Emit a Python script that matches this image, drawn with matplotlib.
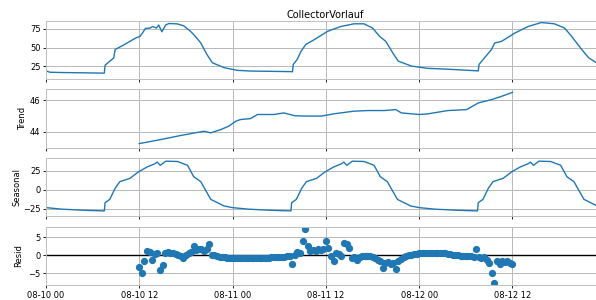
import numpy as np
import pandas as pd
import matplotlib
matplotlib.use("Agg")
import matplotlib.pyplot as plt
import matplotlib.dates as mdates

start = pd.Timestamp("2023-08-10 00:00")

obs_hours = [0, 0.5, 2, 5, 7.5, 7.6, 8.1, 8.7, 8.9, 10.0, 10.8, 11.5, 12.1, 12.4, 12.8,
             13.4, 13.7, 14.2, 14.5, 14.9, 15.4, 15.8, 16.9, 17.7, 18.6, 19.2, 19.9,
             20.7, 21.4, 22.9, 24.6, 26.3, 31.5, 31.7, 31.8, 32.3, 32.8, 33.4, 34.5,
             36.2, 37.9, 39.6, 40.9, 42.0, 42.9, 43.7, 44.6, 45.3, 47.0, 49.1, 52.1,
             55.6, 55.7, 56.4, 57.3, 57.7, 58.6, 60.3, 62.0, 63.7, 65.4, 66.7, 67.6,
             68.9, 69.8, 70.8, 71.5, 71.9]
obs_vals = [19.0, 17.2, 16.8, 16.4, 16.0, 26.5, 31.0, 36.0, 47.5, 53.5, 58.3, 62.5, 64.9,
            69.3, 75.5, 76.0, 78.0, 76.0, 80.0, 71.0, 80.0, 82.0, 81.5, 79.0, 71.5, 65.0,
            56.2, 40.8, 29.8, 23.3, 19.7, 18.8, 18.0, 17.8, 27.6, 34.0, 45.0, 54.0, 60.5,
            71.5, 78.0, 81.6, 81.6, 76.0, 65.0, 58.3, 43.0, 32.0, 25.4, 22.4, 21.0, 19.0,
            27.6, 36.4, 47.4, 56.0, 58.3, 69.3, 78.0, 83.3, 81.6, 76.0, 65.0, 47.4, 36.4,
            29.8, 25.0, 22.0]

# trend (centred moving average, defined 08-10 12 .. 08-12 12)
trend_hours = [12.0, 14.7, 17.3, 20.3, 21.2, 22.5, 23.5, 24.4, 25.0, 26.3, 27.2, 29.3, 30.6,
               32.0, 33.6, 35.4, 37.0, 39.6, 41.4, 43.5, 45.0, 45.7, 48.0, 49.1, 51.7,
               54.1, 55.6, 57.3, 58.6, 60.0]
trend_vals = [43.26, 43.51, 43.77, 44.04, 43.94, 44.15, 44.36, 44.67, 44.78, 44.84, 45.10,
              45.10, 45.20, 45.02, 45.00, 45.00, 45.14, 45.31, 45.35, 45.35, 45.41, 45.20,
              45.10, 45.14, 45.35, 45.41, 45.83, 46.04, 46.25, 46.50]

# seasonal component, one daily profile (period = 24 h)
seas_hours = [0, 2, 5, 7.5, 7.6, 8.2, 8.9, 9.5, 10.8, 11.9, 13.0, 14.0, 14.3, 14.7, 15.4,
              16.9, 18.2, 19.0, 19.9, 21.2, 22.9, 24.0]
seas_vals = [-23.5, -25.5, -27.0, -27.8, -17.0, -12.7, 2.0, 10.6, 14.9, 23.4, 29.8, 34.0,
             36.2, 32.0, 37.4, 37.0, 32.0, 17.0, 10.6, -12.7, -21.3, -23.5]
n_days = 3

# residuals every 20 min from 08-10 12 to 08-12 12
resid_vals = [
    -3.2, -4.8, -1.5, 1.2, 1.0, -1.2, 0.3, 0.7, -4.0, -2.7, 0.7, 0.8,
    0.6, 0.5, 0.3, 0.2, -0.2, -0.8, 0.2, 0.6, 1.0, 2.6, 1.4, 1.7,
    1.6, 1.2, 1.8, 3.1, 0.2, 0.0, -0.2, -0.4, -0.5, -0.6, -0.7, -0.8,
    -0.8, -0.8, -0.8, -0.8, -0.8, -0.8, -0.8, -0.8, -0.8, -0.8, -0.8, -0.8,
    -0.8, -0.7, -0.7, -0.6, -0.6, -0.5, -0.5, -0.4, -0.4, -0.3, -0.2, -2.4,
    0.2, 0.9, 0.6, 4.0, 7.2, 2.6, 1.2, 1.5, 1.3, 1.6, 1.4, 1.8,
    4.0, 2.1, -0.3, -1.7, 0.7, 0.4, -0.3, 3.4, 3.0, 2.1, -0.8, -0.5,
    -1.2, -0.6, -0.3, -0.3, -0.2, -0.3, -0.5, -0.8, -1.2, -1.5, -3.4, -2.0,
    -1.8, -2.5, -2.2, -3.7, -1.5, -1.0, -0.5, -0.2, 0.0, 0.2, 0.3, 0.4,
    0.5, 0.5, 0.6, 0.6, 0.7, 0.7, 0.7, 0.6, 0.6, 0.5, 0.5, 0.4,
    0.3, 0.2, 0.1, 0.0, -0.1, -0.1, -0.2, -0.3, -0.3, -0.4, 1.8, -0.5,
    -0.8, -0.6, -1.4, -2.2, -4.9, -7.5, -1.7, -2.5, -1.5, -1.8, -1.6, -2.0,
    -2.4]


def to_time(hours):
    return start + pd.to_timedelta(np.asarray(hours, dtype=float), unit="h")


obs_t = to_time(obs_hours)
trend_t = to_time(trend_hours)
seas_t = to_time(np.concatenate([np.asarray(seas_hours) + 24 * d for d in range(n_days)]))
seas_y = np.tile(seas_vals, n_days)
resid_t = pd.date_range(start + pd.Timedelta(hours=12), periods=len(resid_vals), freq="20min")

W, H = 596, 300
fig = plt.figure(figsize=(W / 100, H / 100), dpi=100)
left = 46 / W
width = (605 - 46) / W
tops = [20.5, 89.2, 157.9, 226.6]
ph = 58.5
axs = []
for i, t in enumerate(tops):
    ax = fig.add_axes([left, 1 - (t + ph) / H, width, ph / H],
                      sharex=axs[0] if axs else None)
    axs.append(ax)

line_kw = dict(color="#1f77b4", lw=1.0)
axs[0].plot(obs_t, obs_vals, **line_kw)
axs[0].set_title("CollectorVorlauf", fontsize=7, pad=2)
axs[1].plot(trend_t, trend_vals, **line_kw)
axs[1].set_ylabel("Trend", fontsize=6, labelpad=2)
axs[2].plot(seas_t, seas_y, **line_kw)
axs[2].set_ylabel("Seasonal", fontsize=6, labelpad=1)
axs[3].plot(resid_t, resid_vals, marker="o", linestyle="none", markersize=4.2,
            color="#1f77b4")
axs[3].axhline(0, color="black", lw=1, zorder=1)
axs[3].set_ylabel("Resid", fontsize=6, labelpad=4)

axs[0].set_ylim(8.2, 86)
axs[0].set_yticks([25, 50, 75])
axs[1].set_ylim(43.0, 46.7)
axs[1].set_yticks([44, 46])
axs[2].set_ylim(-35, 41.7)
axs[2].set_yticks([-25, 0, 25])
axs[3].set_ylim(-8.2, 7.9)
axs[3].set_yticks([-5, 0, 5])

axs[0].set_xlim(start, start + pd.Timedelta(hours=71.9))
for ax in axs:
    ax.grid(True, color="#b8b8b8", lw=0.7)
    ax.set_axisbelow(True)
    ax.tick_params(labelsize=6, length=2.5, width=0.6, pad=1.5)
    for s in ax.spines.values():
        s.set_color("#c0c0c0")
        s.set_linewidth(0.7)
    ax.xaxis.set_major_locator(mdates.HourLocator(byhour=[0, 12]))
    ax.xaxis.set_major_formatter(mdates.DateFormatter("%m-%d %H"))
for ax in axs[:-1]:
    ax.tick_params(labelbottom=False)

fig.savefig("out.png", dpi=100)
